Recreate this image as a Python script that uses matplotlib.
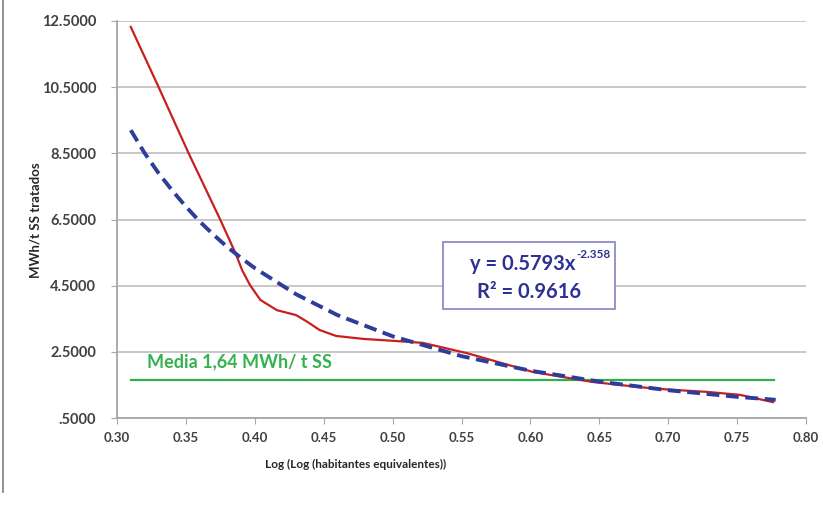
import numpy as np
from matplotlib import pyplot as plt
from matplotlib.lines import Line2D
from matplotlib.patches import Rectangle

# Values
real_x = [0.310, 0.330, 0.352, 0.375, 0.386, 0.391, 0.3965, 0.404, 0.416, 0.430,
          0.438, 0.447, 0.459, 0.479, 0.498, 0.522, 0.554, 0.602, 0.645, 0.680,
          0.700, 0.728, 0.752, 0.776]
real_y = [12.32, 10.52, 8.50, 6.49, 5.48, 4.95, 4.52, 4.07, 3.76, 3.61,
          3.41, 3.16, 2.98, 2.89, 2.84, 2.77, 2.46, 1.89, 1.59, 1.43,
          1.36, 1.29, 1.20, 0.98]

fit_x = [0.310, 0.320, 0.330, 0.340, 0.350, 0.360, 0.370, 0.380, 0.390, 0.400, 0.430,
         0.460, 0.500, 0.550, 0.600, 0.650, 0.700, 0.750, 0.778]
fit_y = [9.20, 8.51, 7.91, 7.38, 6.89, 6.44, 6.04, 5.67, 5.34, 5.03, 4.24,
         3.61, 2.97, 2.37, 1.93, 1.60, 1.34, 1.14, 1.05]

media_x = [0.31, 0.777]
media_y = [1.64, 1.64]

y_ticks = [0.5, 2.5, 4.5, 6.5, 8.5, 10.5, 12.5]
y_tick_labels = ['.5000', '2.5000', '4.5000', '6.5000', '8.5000', '10.5000', '12.5000']
x_ticks = [0.30, 0.35, 0.40, 0.45, 0.50, 0.55, 0.60, 0.65, 0.70, 0.75, 0.80]

plt.rcParams['font.family'] = ['Lato', 'DejaVu Sans']

fig = plt.figure(figsize=(8.23, 5.07), dpi=100)
ax = fig.add_axes([117/823, 1 - 418/507, (806 - 117)/823, (418 - 21)/507])

ax.plot(real_x, real_y, color='#c8201f', lw=1.6, zorder=3, solid_joinstyle='round')
ax.plot(fit_x, fit_y, color='#2e3d99', lw=2.8, ls=(0, (3.3, 1.7)), zorder=4)
ax.plot(media_x, media_y, color='#2fb04c', lw=1.6, zorder=2)

ax.set_xlim(0.30, 0.80)
ax.set_ylim(0.5, 12.5)
ax.set_yticks(y_ticks)
ax.set_yticklabels(y_tick_labels)
ax.set_xticks(x_ticks)
ax.set_xticklabels(['%.2f' % v for v in x_ticks])
ax.yaxis.grid(True, color='#bdbdbd', lw=1.2)
ax.set_axisbelow(True)
for s in ['top', 'right']:
    ax.spines[s].set_visible(False)
for s in ['left', 'bottom']:
    ax.spines[s].set_color('#a6a6a6')
    ax.spines[s].set_linewidth(1.3)
ax.tick_params(axis='both', direction='out', length=4, color='#a6a6a6',
               labelcolor='#404040')
ax.tick_params(axis='y', labelsize=10.5, pad=11)
ax.tick_params(axis='x', labelsize=9.5, pad=6)
for lbl in ax.get_xticklabels() + ax.get_yticklabels():
    lbl.set_fontweight('bold')

fig.text(35/823, 1 - 220/507, 'MWh/t SS tratados', fontsize=9.5, fontweight='bold',
         color='#262626', rotation=90, ha='center', va='center')
fig.text(356/823, 1 - 464/507, 'Log (Log (habitantes equivalentes))', fontsize=8.5,
         fontweight='bold', color='#262626', ha='center', va='center')

# trendline equation box
ax.add_patch(Rectangle((0.5366, 3.795), 0.1248, 2.025, fc='white', ec='#8c8cc8',
                       lw=1.3, zorder=5))
ax.text(0.6324, 4.97, 'y = 0.5793x', fontsize=14.5, fontweight='bold', color='#2e3192',
        ha='right', va='baseline', zorder=6)
ax.text(0.6335, 5.34, '-2.358', fontsize=8.5, fontweight='bold', color='#2e3192',
        ha='left', va='baseline', zorder=6)
ax.text(0.599, 4.13, 'R² = 0.9616', fontsize=14.5, fontweight='bold', color='#2e3192',
        ha='center', va='baseline', zorder=6)

ax.text(0.3215, 2.02, 'Media 1,64 MWh/ t SS', fontsize=13, fontweight='bold', color='#33b24f',
        ha='left', va='baseline')

# chart frame on the left
fig.add_artist(Line2D([3/823, 3/823], [1 - 492/507, 1.0], color='#7f7f7f', lw=1.2))

fig.savefig('out.png', dpi=100)
